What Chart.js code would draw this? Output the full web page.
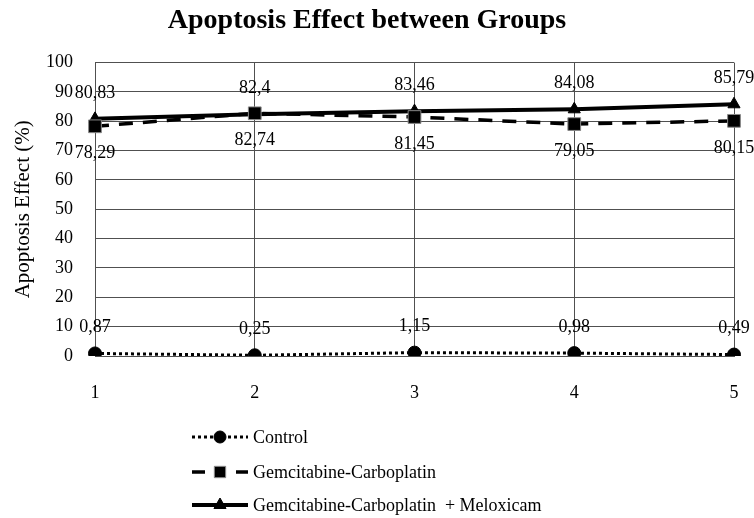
<!DOCTYPE html>
<html>
<head>
<meta charset="utf-8">
<title>Apoptosis Effect between Groups</title>
<script src="https://cdn.jsdelivr.net/npm/chart.js@4.4.0/dist/chart.umd.min.js"></script>
<style>
    html, body { margin: 0; padding: 0; background: #fff; }
    #wrap { width: 754px; height: 518px; }
</style>
</head>
<body>
<div id="wrap"><canvas id="apoptosisChart" width="754" height="518"></canvas></div>
<script>
// data
const categories = ['1', '2', '3', '4', '5'];
const seriesNames = ['Control', 'Gemcitabine-Carboplatin', 'Gemcitabine-Carboplatin  + Meloxicam'];
const controlValues = [0.87, 0.25, 1.15, 0.98, 0.49];
const gcValues = [78.29, 82.74, 81.45, 79.05, 80.15];
const gcmValues = [80.83, 82.4, 83.46, 84.08, 85.79];
const yMin = 0;
const yMax = 100;
const yStep = 10;

(function() {
    'use strict';

    const SERIF = "'Liberation Serif', 'DejaVu Serif', serif";
    const GRID = '#505050';

    // label angka di tiap titik (koma desimal)
    const pointLabels = {
        id: 'pointLabels',
        afterDatasetsDraw(chart) {
            const ctx = chart.ctx;
            ctx.save();
            ctx.font = '18px ' + SERIF;
            ctx.fillStyle = '#000';
            ctx.textAlign = 'center';
            ctx.textBaseline = 'middle';
            chart.data.datasets.forEach((ds, i) => {
                const meta = chart.getDatasetMeta(i);
                const below = ds.labelBelow;
                meta.data.forEach((pt, j) => {
                    const txt = String(ds.data[j]).replace('.', ',');
                    ctx.fillText(txt, pt.x, pt.y + (below ? 27 : -26));
                });
            });
            ctx.restore();
        }
    };

    // legend vertikal di bawah
    const customLegend = {
        id: 'customLegend',
        afterDraw(chart) {
            const ctx = chart.ctx;
            const rows = [437, 472, 505];
            const x0 = 192, x1 = 248, xm = 220;
            chart.data.datasets.forEach((ds, i) => {
                const y = rows[i];
                ctx.save();
                ctx.strokeStyle = '#000';
                ctx.lineWidth = ds.borderWidth;
                ctx.setLineDash(ds.legendDash || []);
                ctx.beginPath();
                ctx.moveTo(x0, y);
                ctx.lineTo(x1, y);
                ctx.stroke();
                ctx.setLineDash([]);
                ctx.fillStyle = ds.pointBackgroundColor;
                ctx.strokeStyle = ds.pointBorderColor;
                ctx.lineWidth = ds.pointBorderWidth;
                Chart.helpers.drawPoint(ctx, {
                    pointStyle: ds.pointStyle,
                    radius: ds.legendRadius,
                    rotation: 0,
                    borderWidth: ds.pointBorderWidth
                }, xm, y);
                ctx.font = '18px ' + SERIF;
                ctx.fillStyle = '#000';
                ctx.textAlign = 'left';
                ctx.textBaseline = 'middle';
                ctx.fillText(ds.label, x1 + 5, y + 1);
                ctx.restore();
            });
        }
    };

    // judul sumbu Y, di tengah area plot
    const yTitle = {
        id: 'yTitle',
        afterDraw(chart) {
            const ctx = chart.ctx;
            const area = chart.chartArea;
            ctx.save();
            ctx.translate(23, (area.top + area.bottom) / 2);
            ctx.rotate(-Math.PI / 2);
            ctx.font = '21px ' + SERIF;
            ctx.fillStyle = '#000';
            ctx.textAlign = 'center';
            ctx.textBaseline = 'middle';
            ctx.fillText('Apoptosis Effect (%)', 0, 0);
            ctx.restore();
        }
    };

    const ctx = document.getElementById('apoptosisChart').getContext('2d');

    new Chart(ctx, {
        type: 'line',
        data: {
            labels: categories,
            datasets: [
                {
                    label: seriesNames[0],
                    data: controlValues,
                    borderColor: '#000',
                    borderWidth: 3,
                    borderDash: [3, 3],
                    legendDash: [3, 3],
                    pointStyle: 'circle',
                    pointRadius: 6.5,
                    legendRadius: 6,
                    pointBackgroundColor: '#000',
                    pointBorderColor: '#000',
                    pointBorderWidth: 1,
                    tension: 0,
                    labelBelow: false
                },
                {
                    label: seriesNames[1],
                    data: gcValues,
                    borderColor: '#000',
                    borderWidth: 3.5,
                    borderDash: [14, 10],
                    legendDash: [13, 31],
                    pointStyle: 'rect',
                    pointRadius: 9,
                    legendRadius: 8,
                    pointBackgroundColor: '#000',
                    pointBorderColor: '#888',
                    pointBorderWidth: 1,
                    tension: 0,
                    labelBelow: true
                },
                {
                    label: seriesNames[2],
                    data: gcmValues,
                    borderColor: '#000',
                    borderWidth: 4,
                    pointStyle: 'triangle',
                    pointRadius: 7,
                    legendRadius: 7,
                    pointBackgroundColor: '#000',
                    pointBorderColor: '#000',
                    pointBorderWidth: 1,
                    tension: 0,
                    labelBelow: false
                }
            ]
        },
        options: {
            responsive: false,
            animation: false,
            layout: {
                padding: { top: 0, left: 0, right: 20, bottom: 112 }
            },
            plugins: {
                legend: { display: false },
                tooltip: { enabled: false },
                title: {
                    display: true,
                    text: 'Apoptosis Effect between Groups',
                    color: '#000',
                    font: { size: 28, weight: 'bold', family: SERIF },
                    padding: { top: 4, bottom: 25 }
                }
            },
            scales: {
                x: {
                    offset: false,
                    grid: { color: GRID, lineWidth: 1, drawTicks: false },
                    border: { color: GRID, width: 1 },
                    ticks: {
                        color: '#000',
                        padding: 26,
                        font: { size: 18, family: SERIF }
                    },
                    afterFit(scale) {
                        scale.height = 50;
                        scale.paddingLeft = 0;
                        scale.paddingRight = 0;
                    }
                },
                y: {
                    min: yMin,
                    max: yMax,
                    grid: { color: GRID, lineWidth: 1, drawTicks: false },
                    border: { color: GRID, width: 1 },
                    ticks: {
                        stepSize: yStep,
                        color: '#000',
                        padding: 22,
                        font: { size: 18, family: SERIF }
                    },
                    afterFit(scale) { scale.width = 95; }
                }
            }
        },
        plugins: [pointLabels, customLegend, yTitle]
    });
})();
</script>
</body>
</html>
